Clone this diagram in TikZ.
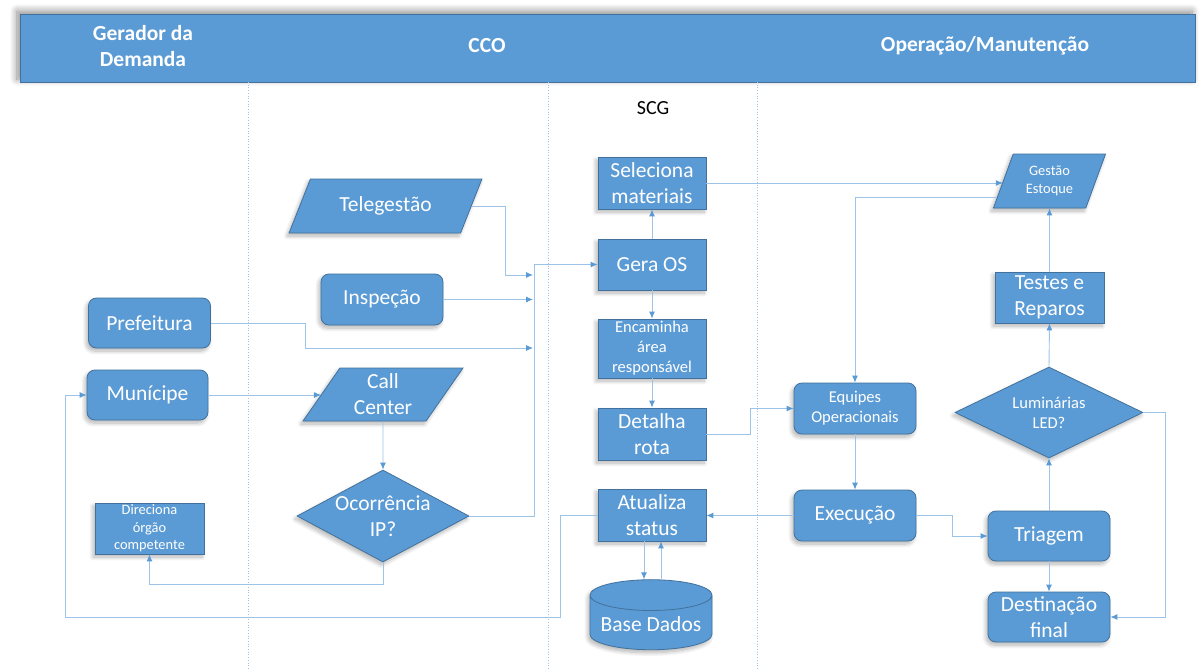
\documentclass[tikz,border=0pt]{standalone}
\usepackage{fontspec}
\setmainfont{Carlito}
\usetikzlibrary{shapes.geometric,arrows.meta,shadows.blur,calc}

\definecolor{boxblue}{HTML}{5B9BD5}
\definecolor{edgeblue}{HTML}{41719C}
\definecolor{linkblue}{HTML}{9DC3E6}
\definecolor{tipblue}{HTML}{5B9BD5}

\newcommand{\bigtxt}{\fontsize{21.5}{26}\selectfont}
\newcommand{\midtxt}{\fontsize{16.5}{20}\selectfont}
\newcommand{\smalltxt}{\fontsize{14.4}{17.5}\selectfont}

\tikzset{
  blk/.style={draw=edgeblue, fill=boxblue, text=white, line width=0.8pt,
    inner sep=1pt, align=center, font=\bigtxt,
    blur shadow={shadow xshift=-2pt, shadow yshift=-3pt, shadow opacity=30,
      shadow blur radius=4pt, shadow blur steps=8}},
  roundbox/.style={blk, rectangle, rounded corners=8pt},
  sqbox/.style={blk, rectangle},
  iobox/.style={blk, trapezium, trapezium stretches=true},
  decide/.style={blk, diamond, inner sep=0pt},
  store/.style={blk, cylinder, shape border rotate=90, aspect=0.3},
  inside/.style={text=white, align=center, font=\bigtxt},
  header/.style={draw=edgeblue, fill=boxblue, line width=0.8pt,
    blur shadow={shadow xshift=-3pt, shadow yshift=3pt, shadow opacity=45,
      shadow blur radius=7pt, shadow blur steps=10}},
  headtxt/.style={text=white, align=center, font=\bigtxt\bfseries},
  lane/.style={draw=linkblue, dotted, line width=0.7pt},
  conn/.style={draw=linkblue, line width=0.9pt,
    -{Latex[length=7pt, width=6pt, color=tipblue]}}
}

\begin{document}
\begin{tikzpicture}[x=1pt,y=-1pt]
\useasboundingbox (0,0) rectangle (1203,670);

% cabecalho das raias
\node[header, minimum width=1175pt, minimum height=68pt] (head) at (607.5,48) {};
\node[headtxt] (gerador) at (143,46) {Gerador da\\Demanda};
\node[headtxt] (cco) at (487,46) {CCO};
\node[headtxt] (opman) at (985,46) {Operação/Manutenção};
\node[font=\fontsize{20}{24}\selectfont] (scg) at (653,108) {SCG};

% raias
\foreach \x in {248,548,757}
  \draw[lane] (\x,82) -- (\x,670);

% gerador da demanda
\node[roundbox, minimum width=122pt, minimum height=50pt] (pref) at (149.5,323) {Prefeitura};
\node[roundbox, minimum width=121pt, minimum height=50pt] (munic) at (147.5,395) {Munícipe};
\node[sqbox, font=\smalltxt, minimum width=109pt, minimum height=51pt] (direc) at (149.5,528.5) {Direciona\\órgão\\competente};

% cco
\node[iobox, trapezium left angle=57, trapezium right angle=123,
  minimum width=193pt, minimum height=54pt] (tele) at (385.5,206) {Telegestão};
\node[roundbox, minimum width=122pt, minimum height=51pt] (insp) at (382,299.5) {Inspeção};
\node[iobox, trapezium left angle=59, trapezium right angle=121,
  minimum width=160pt, minimum height=53pt] (call) at (383,394.5) {Call\\Center};
\node[decide, minimum width=172pt, minimum height=92pt,
  label={[inside]center:Ocorrência\\IP?}] (ocor) at (383,516) {};

% scg
\node[sqbox, minimum width=108pt, minimum height=52pt] (sel) at (652,183) {Seleciona\\materiais};
\node[sqbox, minimum width=108pt, minimum height=51pt] (gera) at (652,264.5) {Gera OS};
\node[sqbox, font=\midtxt, minimum width=108pt, minimum height=59pt] (enc) at (652,348.5) {Encaminha\\área\\responsável};
\node[sqbox, minimum width=108pt, minimum height=52pt] (det) at (652,434) {Detalha\\rota};
\node[sqbox, minimum width=108pt, minimum height=52pt] (atu) at (652,515) {Atualiza\\status};
\node[store, minimum width=122pt, minimum height=70pt] (base) at (651,624) {Base Dados};

% operacao / manutencao
\node[iobox, font=\smalltxt, trapezium left angle=67, trapezium right angle=113,
  minimum width=113pt, minimum height=54pt] (gest) at (1049.5,181) {Gestão\\Estoque};
\node[sqbox, minimum width=109pt, minimum height=51pt] (test) at (1049.5,297.5) {Testes e\\Reparos};
\node[decide, minimum width=188pt, minimum height=91pt,
  label={[inside, font=\midtxt]center:Luminárias\\LED?}] (lum) at (1049,412.5) {};
\node[roundbox, font=\midtxt, minimum width=122pt, minimum height=51pt] (equip) at (855,408.5) {Equipes\\Operacionais};
\node[roundbox, minimum width=122pt, minimum height=51pt] (exec) at (855,515.5) {Execução};
\node[roundbox, minimum width=122pt, minimum height=50pt] (triag) at (1049,536) {Triagem};
\node[roundbox, minimum width=122pt, minimum height=50pt] (dest) at (1049,617) {Destinação\\final};

% entradas do barramento
\coordinate (telein) at (533,275);
\coordinate (inspin) at (533,300);
\coordinate (prefin) at (533,348);

\draw[conn] (tele.east) -- ++(34,0) |- (telein);
\draw[conn] (insp.east) -- (insp.east -| inspin);
\draw[conn] (pref.east) -- ++(95,0) |- (prefin);
\draw[conn] (ocor.east) -| ([xshift=-63pt]gera.west) -- (gera.west);
\draw[conn] (munic.east) -- (munic.east -| call.west);
\draw[conn] (call.south) -- (ocor.north);
\draw[conn] (ocor.south) -- ++(0,22) -| (direc.south);
\draw[conn] (atu.west) -- ++(-37,0) |- (65,617) |- (munic.west);

\draw[conn] (gera.north) -- (sel.south);
\draw[conn] (gera.south) -- (enc.north);
\draw[conn] (enc.south) -- (det.north);
\draw[conn] (det.east) -- ++(44,0) |- (equip.west);
\draw[conn] ([xshift=-8pt]atu.south) -- ([xshift=-8pt]atu.south |- base.north);
\draw[conn] ([xshift=9pt]atu.south |- base.north) -- ([xshift=9pt]atu.south);

\draw[conn] (sel.east) -- (sel.east -| gest.west);
\draw[conn] ($(gest.west)!0.6!(gest.bottom left corner)$) -| (equip.north);
\draw[conn] (equip.south) -- (exec.north);
\draw[conn] (exec.west) -- (exec.west -| atu.east);
\draw[conn] (exec.east) -- ++(36,0) |- (triag.west);
\draw[conn] (triag.north) -- (lum.south);
\draw[conn] (lum.north) -- (test.south);
\draw[conn] (test.north) -- (gest.south);
\draw[conn] (triag.south) -- (dest.north);
\draw[conn] (lum.east) -- ++(22,0) |- (dest.east);

\end{tikzpicture}
\end{document}
